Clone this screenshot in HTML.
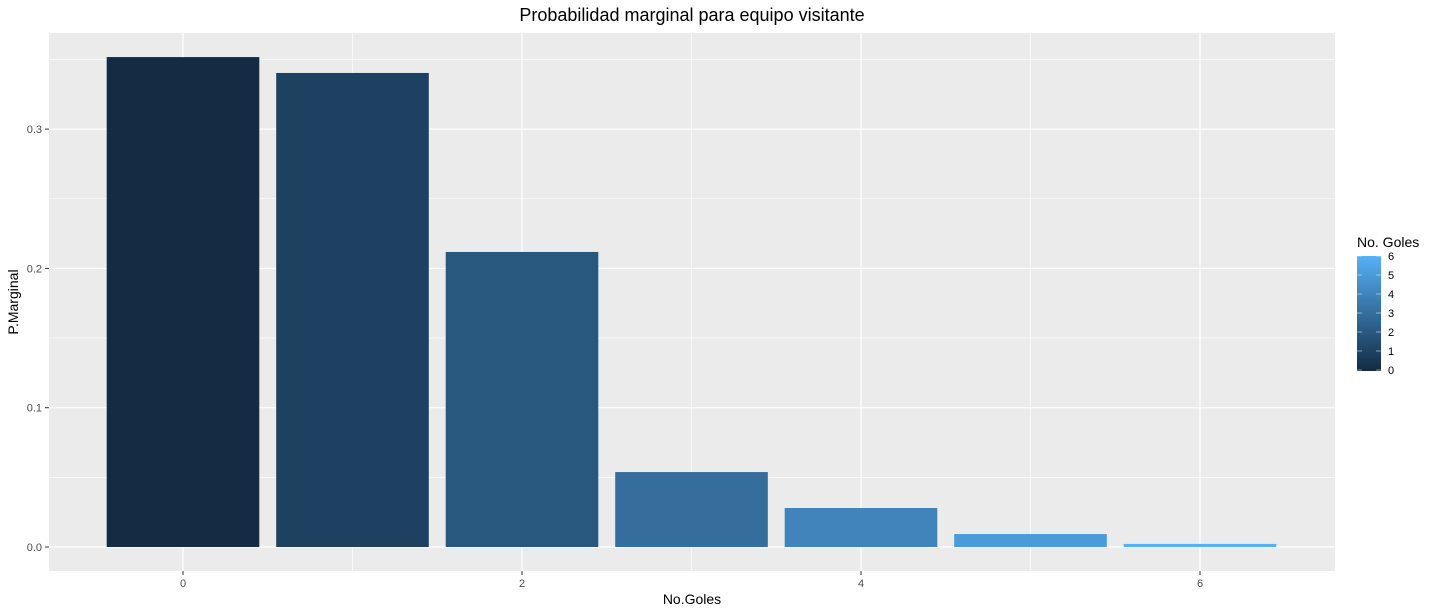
<!DOCTYPE html>
<html><head><meta charset="utf-8"><style>
html,body{margin:0;padding:0;background:#fff;}
svg{display:block;font-family:"Liberation Sans",sans-serif;}
</style></head><body>
<svg id="chart" width="1436" height="614">
<defs><linearGradient id="lg" x1="0" y1="1" x2="0" y2="0">
<stop offset="0" stop-color="#132B43"/><stop offset="1" stop-color="#56B1F7"/></linearGradient></defs>
<rect x="49" y="33" width="1286" height="538" fill="#EBEBEB"/>
<g id="grid"></g><g id="bars"></g><g id="axes"></g>
<text x="692" y="21" font-size="18" text-anchor="middle" fill="#000">Probabilidad marginal para equipo visitante</text>
<text x="692" y="604" font-size="14" text-anchor="middle" fill="#000">No.Goles</text>
<text transform="translate(18,302) rotate(-90)" font-size="14" text-anchor="middle" fill="#000">P.Marginal</text>
<g>
<text x="1357" y="247" font-size="14" fill="#000">No. Goles</text>
<rect x="1357" y="256" width="24" height="115" fill="url(#lg)"/>
<g id="leg"></g>
</g>
</svg>
<script>
const categories=[0,1,2,3,4,5,6];
const values=[0.3517,0.3403,0.2118,0.0538,0.028,0.0093,0.0022];
const yTicks=[0,0.1,0.2,0.3];
const yTickLabels=["0.0","0.1","0.2","0.3"];
const xTicks=[0,2,4,6];
const legendTicks=[0,1,2,3,4,5,6];
const NS="http://www.w3.org/2000/svg";
const x=v=>183+(v)*169.5;
const y=v=>547-v*1393;
function mk(tag,attrs,parent,txt){const e=document.createElementNS(NS,tag);for(const k in attrs)e.setAttribute(k,attrs[k]);if(txt!==undefined)e.textContent=txt;parent.appendChild(e);return e;}
const grid=document.getElementById('grid'),bars=document.getElementById('bars'),axes=document.getElementById('axes'),leg=document.getElementById('leg');
for(let i=0;i<yTicks.length;i++){const m=yTicks[i]+0.05;if(y(m)>33){const l=mk('line',{x1:49,x2:1335,y1:y(m),y2:y(m),stroke:'#fff','stroke-width':0.6},grid);}}
const minorX=[-1,1,3,5,7];
minorX.forEach(v=>{if(x(v)>49&&x(v)<1335){const l=mk('line',{x1:x(v),x2:x(v),y1:33,y2:571,stroke:'#fff','stroke-width':0.6},grid);}});
yTicks.forEach((t,i)=>{const l=mk('line',{x1:49,x2:1335,y1:y(t),y2:y(t),stroke:'#fff','stroke-width':1.2},grid);
const tk=mk('line',{x1:45,x2:49,y1:y(t),y2:y(t),stroke:'#333'},axes);
const tx=mk('text',{x:42,y:y(t)+4,'font-size':11,'text-anchor':'end',fill:'#4D4D4D'},axes,yTickLabels[i]);});
xTicks.forEach(t=>{const l=mk('line',{x1:x(t),x2:x(t),y1:33,y2:571,stroke:'#fff','stroke-width':1.2},grid);
const tk=mk('line',{x1:x(t),x2:x(t),y1:571,y2:575,stroke:'#333'},axes);
const tx=mk('text',{x:x(t),y:587,'font-size':11,'text-anchor':'middle',fill:'#4D4D4D'},axes,String(t));});
function col(v){const a=[0x13,0x2B,0x43],b=[0x56,0xB1,0xF7],f=v/6;return 'rgb('+a.map((c,i)=>Math.round(c+(b[i]-c)*f)).join(',')+')';}
categories.forEach((c,i)=>{const r=mk('rect',{x:x(c)-76.3,width:152.6,y:y(values[i]),height:y(0)-y(values[i]),fill:col(c)},bars);});
legendTicks.forEach(t=>{const yy=370-t*(114/6);
const a=mk('line',{x1:1357,x2:1362,y1:yy,y2:yy,stroke:'#fff','stroke-width':0.8,opacity:0.6},leg);
const b=mk('line',{x1:1376,x2:1381,y1:yy,y2:yy,stroke:'#fff','stroke-width':0.8,opacity:0.6},leg);
const tx=mk('text',{x:1388,y:yy+4,'font-size':11,fill:'#000'},leg,String(t));});
</script>
</body></html>
